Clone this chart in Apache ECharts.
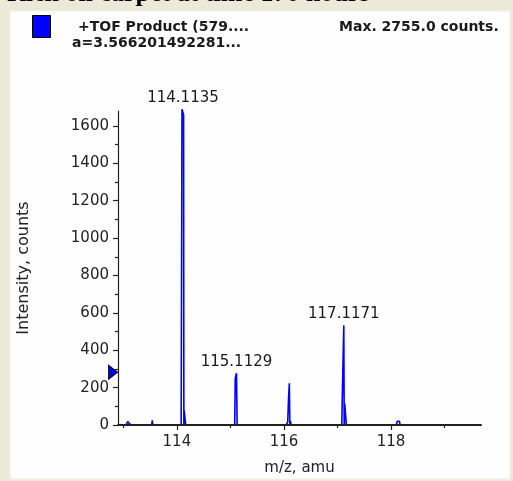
<!DOCTYPE html>
<html>
<head>
<meta charset="utf-8">
<style>
  html, body { margin: 0; padding: 0; background: #ece9d8; }
  #chart { width: 513px; height: 481px; }
</style>
<script src="https://cdn.jsdelivr.net/npm/echarts@6/dist/echarts.min.js"></script>
</head>
<body>
<div id="chart"></div>
<script>
// Profile spectrum: m/z positions and their intensities (counts)
const mzValues = [
  112.95, 113.05, 113.08, 113.11, 113.14,
  113.53, 113.54, 113.55,
  114.08, 114.095, 114.1135, 114.125, 114.13, 114.135, 114.16, 114.165,
  115.08, 115.09, 115.105, 115.1129, 115.125, 115.13, 115.145,
  116.04, 116.05, 116.06, 116.07, 116.085, 116.10, 116.11, 116.12, 116.135,
  116.57, 116.58, 116.59,
  117.08, 117.09, 117.1171, 117.125, 117.135, 117.155, 117.165,
  118.10, 118.115, 118.155, 118.17,
  119.68
];
const intensityValues = [
  0, 0, 18, 15, 0,
  0, 25, 0,
  0, 1690, 1690, 1660, 0, 80, 80, 0,
  0, 250, 255, 277, 0, 8, 0,
  0, 10, 0, 15, 140, 223, 0, 20, 0,
  0, 10, 0,
  0, 160, 533, 0, 113, 113, 0,
  0, 20, 20, 0,
  0
];

// Annotated peak centroids
const peakMz = [114.1135, 115.1129, 117.1171];
const peakIntensity = [1690, 277, 533];

// Axis ticks
const xMajorTicks = [114, 116, 118];
const xMinorTicks = [113, 115, 117, 119];
const yMajorTicks = [0, 200, 400, 600, 800, 1000, 1200, 1400, 1600];
const yMinorTicks = [100, 300, 500, 700, 900, 1100, 1300, 1500];

// Detection threshold marker on the intensity axis
const thresholdLevel = [282];

const xMin = 112.9, xMax = 119.68, yMin = 0, yMax = 1680;

const chart = echarts.init(document.getElementById('chart'), null, { renderer: 'canvas' });

const textColor = '#222';
const labelFont = { fontFamily: '"DejaVu Sans", sans-serif', fontSize: 15, color: textColor };
const axisLineStyle = { color: '#222', width: 1.2 };
const baseLineStyle = { color: '#222', width: 2 };

const spectrum = mzValues.map((m, i) => [m, intensityValues[i]]);
const peaks = peakMz.map((m, i) => [m, peakIntensity[i]]);

chart.setOption({
  backgroundColor: '#ece9d8',
  animation: false,
  graphic: [
    {
      type: 'text', left: 7, top: -19, z: -20,
      style: {
        text: 'Rich oil carpet at time 170 hours',
        font: 'bold 26px "Liberation Serif", serif',
        fill: '#000'
      }
    },
    {
      type: 'rect', z: -10,
      shape: { x: 10, y: 11, width: 500, height: 468 },
      style: { fill: '#fefefe', stroke: '#f2f0e8', lineWidth: 1 }
    },
    {
      type: 'rect', z: 10,
      shape: { x: 32.5, y: 15.5, width: 18, height: 22 },
      style: { fill: '#0000ff', stroke: '#000', lineWidth: 1 }
    },
    {
      type: 'text', z: 10, x: 78, y: 27,
      style: {
        text: '+TOF Product (579....',
        font: 'bold 14px "DejaVu Sans", sans-serif',
        fill: '#1a1a1a', verticalAlign: 'middle'
      }
    },
    {
      type: 'text', z: 10, x: 72, y: 43,
      style: {
        text: 'a=3.566201492281...',
        font: 'bold 14px "DejaVu Sans", sans-serif',
        fill: '#1a1a1a', verticalAlign: 'middle'
      }
    },
    {
      type: 'text', z: 10, x: 339, y: 27,
      style: {
        text: 'Max. 2755.0 counts.',
        font: 'bold 14px "DejaVu Sans", sans-serif',
        fill: '#1a1a1a', verticalAlign: 'middle'
      }
    }
  ],
  grid: { left: 118, right: 32, top: 111, bottom: 54, containLabel: false },
  xAxis: [
    {
      type: 'value', min: xMin, max: xMax, z: 10,
      name: 'm/z, amu', nameLocation: 'middle', nameGap: 36,
      nameTextStyle: { fontFamily: '"DejaVu Sans", sans-serif', fontSize: 15, color: textColor },
      axisLine: { show: true, onZero: false, lineStyle: baseLineStyle },
      axisTick: { show: true, inside: false, length: 5, customValues: xMajorTicks, lineStyle: axisLineStyle },
      axisLabel: Object.assign({ margin: 10, customValues: xMajorTicks, formatter: v => String(v) }, labelFont),
      splitLine: { show: false }
    },
    {
      type: 'value', min: xMin, max: xMax, position: 'bottom', z: 10,
      axisLine: { show: false },
      axisTick: { show: true, inside: false, length: 3, customValues: xMinorTicks, lineStyle: axisLineStyle },
      axisLabel: { show: false, customValues: xMinorTicks },
      splitLine: { show: false }
    }
  ],
  yAxis: [
    {
      type: 'value', min: yMin, max: yMax, z: 10,
      name: 'Intensity, counts', nameLocation: 'middle', nameGap: 86, nameRotate: 90,
      nameTextStyle: { fontFamily: '"DejaVu Sans", sans-serif', fontSize: 16, color: textColor },
      axisLine: { show: true, onZero: false, lineStyle: axisLineStyle },
      axisTick: { show: true, inside: false, length: 5, customValues: yMajorTicks, lineStyle: axisLineStyle },
      axisLabel: Object.assign({ margin: 9, customValues: yMajorTicks, formatter: v => String(v) }, labelFont),
      splitLine: { show: false }
    },
    {
      type: 'value', min: yMin, max: yMax, position: 'left', z: 10,
      axisLine: { show: false },
      axisTick: { show: true, inside: false, length: 3, customValues: yMinorTicks, lineStyle: axisLineStyle },
      axisLabel: { show: false, customValues: yMinorTicks },
      splitLine: { show: false }
    }
  ],
  series: [
    {
      type: 'line',
      data: spectrum,
      xAxisIndex: 0, yAxisIndex: 0,
      showSymbol: false, symbol: 'none',
      clip: false,
      lineStyle: { color: '#0000ff', width: 1.6 },
      markPoint: {
        silent: true,
        data: [{
          coord: [xMin, thresholdLevel[0]],
          symbol: 'triangle', symbolRotate: -90, symbolSize: [14, 9], symbolOffset: [-5, 0],
          itemStyle: { color: '#0000ff', borderColor: '#000', borderWidth: 1 },
          label: { show: false }
        }]
      },
      z: 3
    },
    {
      type: 'scatter',
      data: peaks,
      symbolSize: 0,
      clip: false,
      itemStyle: { opacity: 1 },
      label: {
        show: true, position: 'top', distance: 4, opacity: 1,
        textBorderWidth: 0,
        formatter: p => p.value[0].toFixed(4),
        fontFamily: '"DejaVu Sans", sans-serif', fontSize: 15, color: '#1a1a1a'
      },
      emphasis: { disabled: true },
      z: 4
    }
  ]
});
</script>
</body>
</html>
